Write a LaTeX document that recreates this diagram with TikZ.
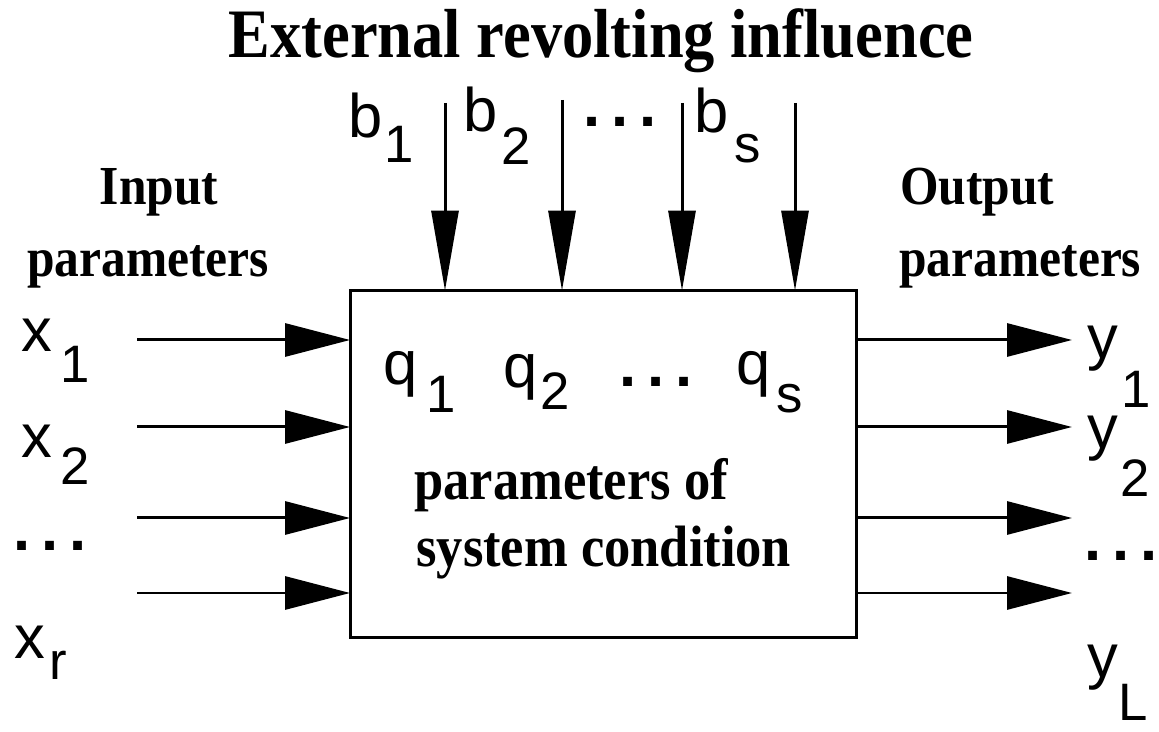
\documentclass[tikz,border=0pt]{standalone}
\usepackage{fontspec}
\setmainfont{Liberation Serif}
\newfontfamily\labelsans{Liberation Sans}
\newfontfamily\headserif[FakeStretch=0.9]{Liberation Serif}
\usetikzlibrary{arrows.meta}
% index set low beside a letter: gap, drop (cm), index
\newcommand{\lowidx}[3]{\hspace{#1cm}\raisebox{-#2cm}{\fontsize{30}{30}\selectfont #3}}
\newcommand{\dotrow}{{\bfseries.\hspace{0.22cm}.\hspace{0.22cm}.}}

\begin{document}
\begin{tikzpicture}[x=0.02cm,y=-0.02cm,
 sysbox/.style={draw,line width=0.06cm,minimum width=10.14cm,minimum height=6.94cm,
   inner sep=0pt,outer sep=0pt},
 var/.style={font=\labelsans\fontsize{35}{35}\selectfont,inner sep=0pt,anchor=base west},
 title/.style={font=\headserif\bfseries\fontsize{39.5}{39.5}\selectfont,inner sep=0pt,anchor=base},
 caption/.style={font=\headserif\bfseries\fontsize{31.3}{31.3}\selectfont,inner sep=0pt,anchor=base},
 inside/.style={font=\headserif\bfseries\fontsize{33.2}{33.2}\selectfont,inner sep=0pt,anchor=base west},
 signal/.style={line width=0.06cm,-{Triangle[length=1.3cm,width=0.66cm]}},
 disturb/.style={line width=0.06cm,-{Triangle[length=1.6cm,width=0.54cm]}}
]
\useasboundingbox (0,0) rectangle (1159,732);
\node[sysbox] (system) at (603.5,464) {};
\node[title] (influence) at (601,58) {External revolting influence};
\node[caption] (inhead) at (159,205) {Input};
\node[caption] (inhead2) at (148,277) {parameters};
\node[caption,anchor=base west] (outhead) at (900,205) {Output};
\node[caption,anchor=base west] (outhead2) at (899,277) {parameters};
\node[inside] (state1) at (414,500) {parameters of};
\node[inside] (state2) at (416,566) {system condition};
% disturbances
\node[var] (b1) at (348,138) {b\lowidx{0.03}{0.5}{1}};
\node[var] (b2) at (463,132) {b\lowidx{0.07}{0.66}{2}};
\node[var] (bdots) at (583,127) {\dotrow};
\node[var] (bs) at (694,133) {b\lowidx{0.12}{0.6}{s}};
% state
\node[var] (q1) at (383,385) {q\lowidx{0.17}{0.56}{1}};
\node[var] (q2) at (503,388) {q\lowidx{0.05}{0.44}{2}};
\node[var] (qdots) at (619,387) {\dotrow};
\node[var] (qs) at (736,385) {q\lowidx{0.11}{0.56}{s}};
% inputs
\node[var] (x1) at (21,352) {x\lowidx{0.16}{0.62}{1}};
\node[var] (x2) at (21,458) {x\lowidx{0.16}{0.54}{2}};
\node[var] (xdots) at (13,551) {\dotrow};
\node[var] (xr) at (14,658) {x\lowidx{0.08}{0.44}{r}};
% outputs
\node[var] (y1) at (1087,359) {y\lowidx{0.06}{0.98}{1}};
\node[var] (y2) at (1087,449) {y\lowidx{0.04}{0.96}{2}};
\node[var] (ydots) at (1084,561) {\dotrow};
\node[var] (yL) at (1087,677) {y\lowidx{0}{0.88}{L}};
\coordinate (b1in) at (445,103);
\coordinate (b2in) at (562,100);
\coordinate (b3in) at (682,103);
\coordinate (b4in) at (795,103);
\coordinate (x1in) at (137,340);
\coordinate (x2in) at (137,427);
\coordinate (x3in) at (137,518);
\coordinate (x4in) at (137,593);
\coordinate (y1out) at (1072,340);
\coordinate (y2out) at (1072,427);
\coordinate (y3out) at (1072,518);
\coordinate (y4out) at (1072,593);
\draw[disturb] (b1in) -- (b1in |- system.north);
\draw[disturb] (b2in) -- (b2in |- system.north);
\draw[disturb] (b3in) -- (b3in |- system.north);
\draw[disturb] (b4in) -- (b4in |- system.north);
\draw[signal] (x1in) -- (x1in -| system.west);
\draw[signal] (x2in) -- (x2in -| system.west);
\draw[signal] (x3in) -- (x3in -| system.west);
\draw[signal] (x4in) -- (x4in -| system.west);
\draw[signal] (y1out -| system.east) -- (y1out);
\draw[signal] (y2out -| system.east) -- (y2out);
\draw[signal] (y3out -| system.east) -- (y3out);
\draw[signal] (y4out -| system.east) -- (y4out);
\end{tikzpicture}
\end{document}
